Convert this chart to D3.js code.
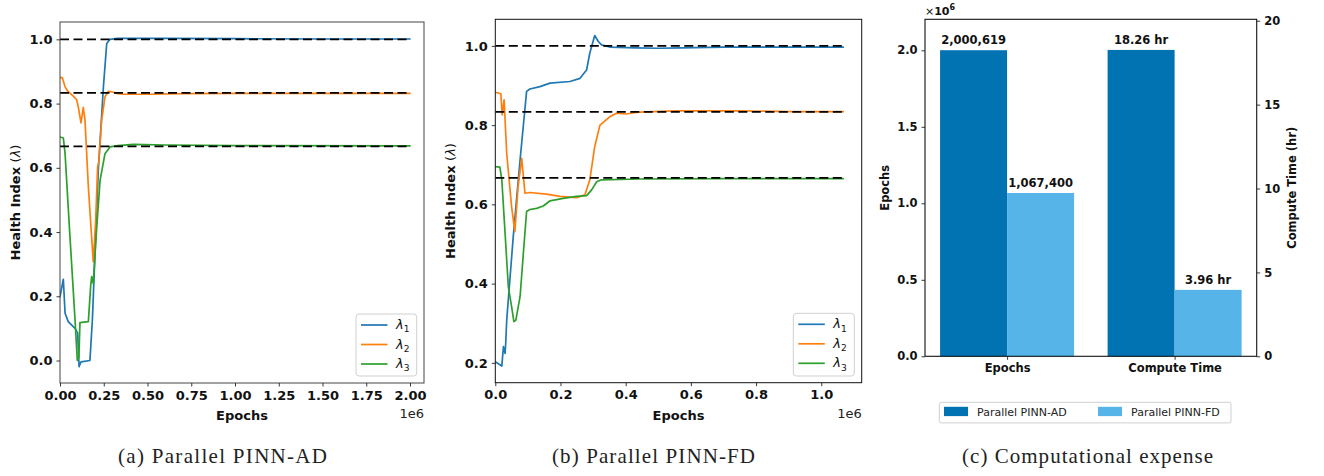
<!DOCTYPE html>
<html>
<head>
<meta charset="utf-8">
<script src="https://cdn.jsdelivr.net/npm/d3@7"></script>
<style>
  html, body { margin: 0; padding: 0; background: #fff; }
  svg { display: block; }
</style>
</head>
<body>
<svg id="fig" width="1324" height="476" font-family="DejaVu Sans, sans-serif" fill="#111"></svg>
<script>
// ---------- Data (epochs in millions) ----------
// Parallel PINN-AD: identified health indices over training
const adLambda1 = [[0,0.198],[0.019,0.253],[0.029,0.147],[0.047,0.121],[0.086,0.100],[0.101,0.085],[0.109,-0.019],[0.12,-0.004],[0.171,0.0],[0.185,0.126],[0.2,0.333],[0.219,0.593],[0.248,0.852],[0.267,0.987],[0.286,1.0],[0.33,1.003],[0.6,1.003],[1.0,1.002],[1.5,1.001],[2.0,1.001]];
const adLambda2 = [[0,0.881],[0.013,0.881],[0.029,0.852],[0.044,0.839],[0.076,0.823],[0.095,0.812],[0.105,0.788],[0.12,0.740],[0.133,0.788],[0.143,0.748],[0.162,0.541],[0.19,0.307],[0.204,0.437],[0.215,0.603],[0.222,0.62],[0.238,0.748],[0.257,0.821],[0.276,0.838],[0.3,0.836],[0.33,0.831],[0.37,0.829],[0.5,0.829],[0.7,0.831],[1.0,0.832],[2.0,0.832]];
const adLambda3 = [[0,0.696],[0.019,0.693],[0.029,0.644],[0.057,0.385],[0.086,0.126],[0.099,0.0],[0.108,0.01],[0.114,0.118],[0.162,0.121],[0.175,0.23],[0.181,0.261],[0.19,0.24],[0.21,0.416],[0.229,0.561],[0.257,0.644],[0.286,0.665],[0.33,0.669],[0.42,0.673],[0.6,0.671],[1.0,0.669],[2.0,0.668]];

// Parallel PINN-FD: identified health indices over training
const fdLambda1 = [[0,0.203],[0.02,0.192],[0.025,0.241],[0.03,0.224],[0.032,0.25],[0.035,0.308],[0.055,0.518],[0.076,0.712],[0.096,0.885],[0.106,0.891],[0.137,0.897],[0.168,0.906],[0.229,0.91],[0.26,0.918],[0.28,0.939],[0.29,0.982],[0.305,1.026],[0.316,1.011],[0.326,1.0025],[0.351,0.997],[0.43,0.995],[0.5,0.994],[0.57,0.995],[0.7,0.997],[0.9,0.997],[1.0674,0.997]];
const fdLambda2 = [[0,0.883],[0.017,0.879],[0.021,0.826],[0.027,0.864],[0.035,0.729],[0.05,0.594],[0.06,0.531],[0.07,0.645],[0.081,0.716],[0.091,0.628],[0.106,0.63],[0.157,0.626],[0.198,0.62],[0.249,0.617],[0.275,0.624],[0.29,0.662],[0.305,0.746],[0.321,0.80],[0.351,0.821],[0.372,0.83],[0.40,0.828],[0.443,0.833],[0.55,0.836],[0.75,0.836],[0.9,0.834],[1.0674,0.834]];
const fdLambda3 = [[0,0.695],[0.014,0.694],[0.02,0.662],[0.03,0.527],[0.04,0.392],[0.05,0.342],[0.057,0.304],[0.063,0.308],[0.076,0.367],[0.086,0.476],[0.096,0.582],[0.106,0.587],[0.127,0.59],[0.147,0.596],[0.168,0.609],[0.208,0.615],[0.249,0.62],[0.28,0.622],[0.295,0.636],[0.311,0.657],[0.326,0.662],[0.44,0.664],[0.7,0.665],[1.0674,0.665]];

// True health indices (reference lines)
const trueLambdas = [1.0, 0.8333, 0.6667];
const seriesNames = ["1", "2", "3"];

// Computational expense
const methods = ["Parallel PINN-AD", "Parallel PINN-FD"];
const expenseCategories = ["Epochs", "Compute Time"];
const epochsTotal = [2000619, 1067400];
const computeHours = [18.26, 3.96];
const epochLabels = ["2,000,619", "1,067,400"];
const hourLabels = ["18.26 hr", "3.96 hr"];

// Tick values
const adXTicks = [0, 0.25, 0.5, 0.75, 1.0, 1.25, 1.5, 1.75, 2.0];
const fdXTicks = [0, 0.2, 0.4, 0.6, 0.8, 1.0];
const adYTicks = [0, 0.2, 0.4, 0.6, 0.8, 1.0];
const fdYTicks = [0.2, 0.4, 0.6, 0.8, 1.0];
const epochYTicks = [0, 0.5, 1.0, 1.5, 2.0];
const hourYTicks = [0, 5, 10, 15, 20];

const captions = ["(a) Parallel PINN-AD", "(b) Parallel PINN-FD", "(c) Computational expense"];

// ---------- Styling ----------
const lineColors = ["#1f77b4", "#ff7f0e", "#2ca02c"];
const barColors = ["#0173b2", "#56b4e9"];
const svg = d3.select("#fig");
svg.append("rect").attr("width", 1324).attr("height", 476).attr("fill", "#fff");

function axisStyle(g, fs) {
  g.attr("font-family", null).attr("font-size", null);
  g.selectAll(".domain").remove();
  g.selectAll(".tick line").attr("stroke", "#222").attr("stroke-width", 0.9);
  g.selectAll(".tick text").attr("font-family", "DejaVu Sans").attr("font-weight", "bold")
    .attr("font-size", fs).attr("fill", "#111");
}

function lambdaLabel(sel, x, y, sub, fs) {
  const t = sel.append("text").attr("x", x).attr("y", y).attr("font-size", fs);
  t.append("tspan").attr("font-style", "italic").text("λ");
  t.append("tspan").attr("font-size", fs * 0.7).attr("dy", fs * 0.25).text(sub);
  return t;
}

// ---------- Line panels ----------
function linePanel(cfg) {
  const { left, right, top, bottom, xDomain, yDomain, xTicks, yTicks, xFmt, series, xEnd, spine } = cfg;
  const x = d3.scaleLinear().domain(xDomain).range([left, right]);
  const y = d3.scaleLinear().domain(yDomain).range([bottom, top]);
  const g = svg.append("g");
  const fs = 13;

  const clipId = "clip" + Math.round(left);
  svg.append("clipPath").attr("id", clipId).append("rect")
    .attr("x", left).attr("y", top).attr("width", right - left).attr("height", bottom - top);

  const plot = g.append("g").attr("clip-path", `url(#${clipId})`);
  const line = d3.line().x(d => x(d[0])).y(d => y(d[1]));
  series.forEach((s, i) => {
    plot.append("path").datum(s).attr("d", line).attr("fill", "none")
      .attr("stroke", lineColors[i]).attr("stroke-width", 1.7)
      .attr("stroke-linejoin", "round").attr("stroke-linecap", "round");
  });
  trueLambdas.forEach(v => {
    plot.append("line").attr("x1", x(0)).attr("x2", x(xEnd)).attr("y1", y(v)).attr("y2", y(v))
      .attr("stroke", "#000").attr("stroke-width", 1.8).attr("stroke-dasharray", "9,4.5");
  });

  // frame
  g.append("rect").attr("x", left).attr("y", top).attr("width", right - left).attr("height", bottom - top)
    .attr("fill", "none").attr("stroke", spine).attr("stroke-width", 1);

  const xa = g.append("g").attr("transform", `translate(0,${bottom})`)
    .call(d3.axisBottom(x).tickValues(xTicks).tickFormat(d3.format(xFmt)).tickSizeOuter(0).tickSize(3.5).tickPadding(4));
  axisStyle(xa, fs);
  const ya = g.append("g").attr("transform", `translate(${left},0)`)
    .call(d3.axisLeft(y).tickValues(yTicks).tickFormat(d3.format(".1f")).tickSizeOuter(0).tickSize(3.5).tickPadding(4));
  axisStyle(ya, fs);

  g.append("text").attr("x", (left + right) / 2).attr("y", bottom + 37).attr("text-anchor", "middle")
    .attr("font-weight", "bold").attr("font-size", fs).text("Epochs");
  g.append("text").attr("x", right).attr("y", bottom + 35).attr("text-anchor", "end")
    .attr("font-size", fs).attr("fill", "#222").text("1e6");

  const yl = g.append("text").attr("transform", `translate(${cfg.ylabelX},${(top + bottom) / 2}) rotate(-90)`)
    .attr("text-anchor", "middle").attr("dy", "0.35em").attr("font-size", fs);
  yl.append("tspan").attr("font-weight", "bold").text("Health Index ");
  yl.append("tspan").text("(");
  yl.append("tspan").attr("font-style", "italic").text("λ");
  yl.append("tspan").text(")");

  // legend
  const L = cfg.legend;
  g.append("rect").attr("x", L.x).attr("y", L.y).attr("width", L.w).attr("height", L.h).attr("rx", 3)
    .attr("fill", "#fff").attr("fill-opacity", 0.85).attr("stroke", "#d0d0d0").attr("stroke-width", 1);
  seriesNames.forEach((n, i) => {
    const ly = L.y + 11 + i * 19.5;
    g.append("line").attr("x1", L.x + 5).attr("x2", L.x + 31.5).attr("y1", ly).attr("y2", ly)
      .attr("stroke", lineColors[i]).attr("stroke-width", 1.7);
    lambdaLabel(g, L.x + 40, ly + 4, n, 13);
  });
}

linePanel({
  left: 60, right: 424, top: 22, bottom: 383,
  xDomain: [0, 2.08], yDomain: [-0.07, 1.054],
  xTicks: adXTicks, yTicks: adYTicks, xFmt: ".2f",
  series: [adLambda1, adLambda2, adLambda3], xEnd: 2.0, spine: "#444",
  ylabelX: 15,
  legend: { x: 356, y: 314, w: 60.7, h: 62 }
});

linePanel({
  left: 495.3, right: 861.7, top: 19.3, bottom: 382.7,
  xDomain: [0, 1.124], yDomain: [0.15, 1.067],
  xTicks: fdXTicks, yTicks: fdYTicks, xFmt: ".1f",
  series: [fdLambda1, fdLambda2, fdLambda3], xEnd: 1.0674, spine: "#111",
  ylabelX: 450,
  legend: { x: 793.3, y: 313.3, w: 61, h: 62.7 }
});

// ---------- Bar panel ----------
(function () {
  const left = 925, right = 1256.7, top = 19.3, bottom = 356.3, fs = 11.5;
  const barW = 0.4;
  const x = d3.scaleLinear().domain([-0.49, 1.49]).range([left, right]);
  const yL = d3.scaleLinear().domain([0, 2.2026]).range([bottom, top]);
  const yR = d3.scaleLinear().domain([0, 20.086]).range([bottom, top]);
  const g = svg.append("g");

  // Epochs group (left axis, millions)
  epochsTotal.forEach((v, i) => {
    const x0 = x(0 - barW + i * barW), x1 = x(0 + i * barW);
    g.append("rect").attr("x", x0).attr("y", yL(v / 1e6)).attr("width", x1 - x0)
      .attr("height", bottom - yL(v / 1e6)).attr("fill", barColors[i]);
    g.append("text").attr("x", (x0 + x1) / 2).attr("y", yL(v / 1e6) - 6).attr("text-anchor", "middle")
      .attr("font-weight", "bold").attr("font-size", fs).text(epochLabels[i]);
  });
  // Compute-time group (right axis, hours)
  computeHours.forEach((v, i) => {
    const x0 = x(1 - barW + i * barW), x1 = x(1 + i * barW);
    g.append("rect").attr("x", x0).attr("y", yR(v)).attr("width", x1 - x0)
      .attr("height", bottom - yR(v)).attr("fill", barColors[i]);
    g.append("text").attr("x", (x0 + x1) / 2).attr("y", yR(v) - 6).attr("text-anchor", "middle")
      .attr("font-weight", "bold").attr("font-size", fs).text(hourLabels[i]);
  });

  g.append("rect").attr("x", left).attr("y", top).attr("width", right - left).attr("height", bottom - top)
    .attr("fill", "none").attr("stroke", "#111").attr("stroke-width", 1.1);

  const xa = g.append("g").attr("transform", `translate(0,${bottom})`)
    .call(d3.axisBottom(x).tickValues([0, 1]).tickFormat((d, i) => expenseCategories[i])
      .tickSizeOuter(0).tickSize(3.5).tickPadding(4));
  axisStyle(xa, fs);
  const ya = g.append("g").attr("transform", `translate(${left},0)`)
    .call(d3.axisLeft(yL).tickValues(epochYTicks).tickFormat(d3.format(".1f")).tickSizeOuter(0).tickSize(3.5).tickPadding(4));
  axisStyle(ya, fs);
  const yb = g.append("g").attr("transform", `translate(${right},0)`)
    .call(d3.axisRight(yR).tickValues(hourYTicks).tickFormat(d3.format("d")).tickSizeOuter(0).tickSize(3.5).tickPadding(4));
  axisStyle(yb, fs);

  const sci = g.append("text").attr("x", left).attr("y", 15).attr("font-size", 11).attr("font-weight", "bold");
  sci.append("tspan").attr("font-weight", "normal").text("×");
  sci.append("tspan").text("10");
  sci.append("tspan").attr("font-size", 8).attr("dy", -5).text("6");

  g.append("text").attr("transform", `translate(885,${(top + bottom) / 2}) rotate(-90)`)
    .attr("text-anchor", "middle").attr("dy", "0.35em").attr("font-weight", "bold").attr("font-size", fs).text("Epochs");
  g.append("text").attr("transform", `translate(1291.5,${(top + bottom) / 2}) rotate(-90)`)
    .attr("text-anchor", "middle").attr("dy", "0.35em").attr("font-weight", "bold").attr("font-size", fs).text("Compute Time (hr)");

  // legend below the axes
  g.append("rect").attr("x", 939.3).attr("y", 402.3).attr("width", 291.7).attr("height", 20.6).attr("rx", 2)
    .attr("fill", "#fff").attr("stroke", "#d0d0d0").attr("stroke-width", 1);
  const legX = [944, 1098];
  methods.forEach((m, i) => {
    g.append("rect").attr("x", legX[i]).attr("y", 406.8).attr("width", 24).attr("height", 9.3).attr("fill", barColors[i]);
    g.append("text").attr("x", legX[i] + 33).attr("y", 415.5).attr("font-size", 11).attr("fill", "#222").text(m);
  });
})();

// ---------- Sub-figure captions ----------
const capX = [222.5, 653.5, 1087.5];
const capW = [209, 203, 251];
captions.forEach((c, i) => {
  svg.append("text").attr("x", capX[i] - capW[i] / 2).attr("y", 463)
    .attr("font-family", "Liberation Serif, serif").attr("font-size", 21).attr("fill", "#222")
    .attr("textLength", capW[i]).attr("lengthAdjust", "spacing").text(c);
});
</script>
</body>
</html>
